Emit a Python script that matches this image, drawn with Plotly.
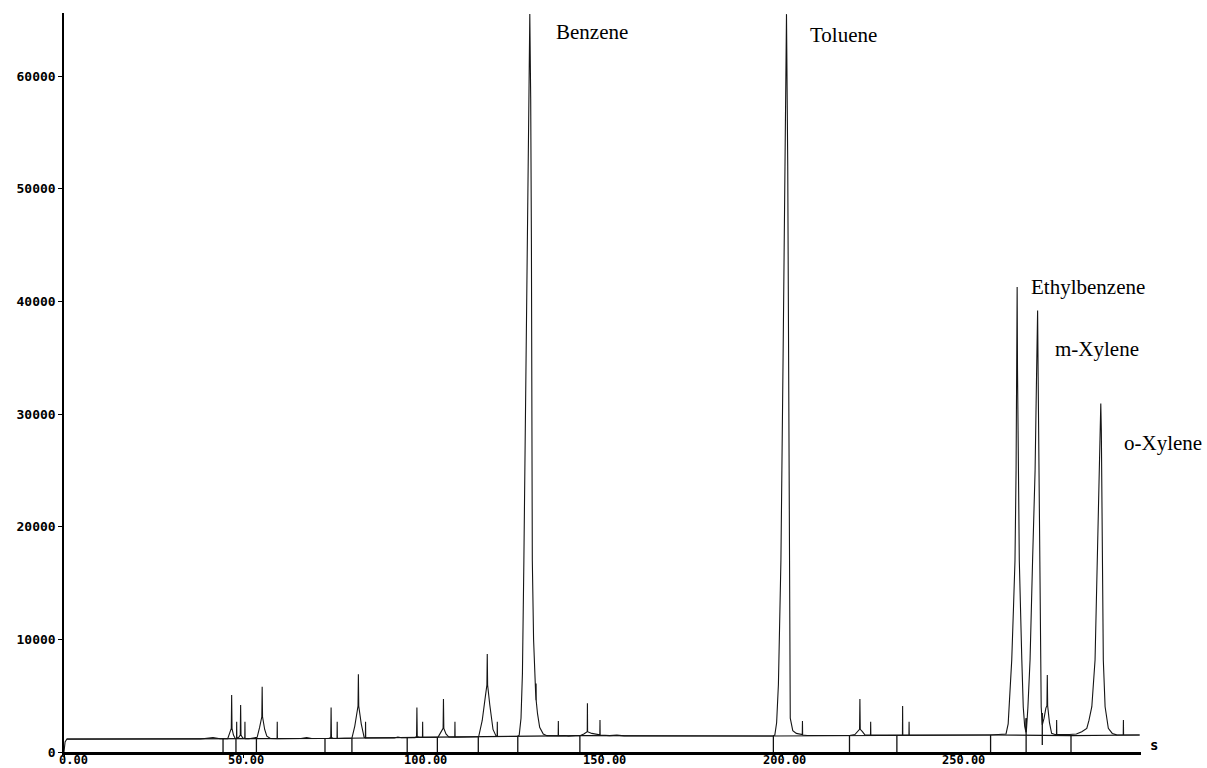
import plotly.graph_objects as go

# ---------------- data ----------------
# chromatogram trace vertices: retention time (s) and detector signal
trace_time = [
    0, 0.3, 0.8, 20, 38, 41.5, 43.5,
    45.6, 46.2, 46.6, 46.7, 46.8, 47.2, 47.7, 48.05, 48.1, 48.15, 48.7, 49.1, 49.2, 49.3, 49.8,
    50.35, 50.4, 50.45, 51.5, 53.0, 53.8, 54.5, 55.1, 55.2, 55.3, 55.9, 56.5, 57.5,
    59.35, 59.4, 59.45, 66, 67.6, 69, 73.8, 74.3, 74.4, 74.5, 75, 76.05, 76.1, 76.15,
    80.2, 81.0, 81.9, 82.0, 82.1, 82.8, 83.6, 83.95, 84.0, 84.05, 92, 93, 94,
    97.8, 98.2, 98.3, 98.4, 99.0, 99.85, 99.9, 99.95,
    104.2, 105.0, 105.6, 105.7, 105.8, 106.4, 107.2, 108.85, 108.9, 108.95,
    115.5, 116.5, 117.4, 117.8, 117.9, 118.0, 118.6, 119.5, 120.3, 120.65, 120.7, 120.75, 126.3,
    126.8, 127.3, 127.7, 128.1, 128.6, 129.1, 129.5, 129.75, 130.0, 130.2, 130.35, 130.45,
    130.8, 131.2, 131.45, 131.5, 131.55, 131.9, 132.5, 133.5, 134.5,
    137.65, 137.7, 137.75, 139.5, 140.5, 142.5, 143.7, 144.8, 145.6, 145.75, 145.8, 145.85,
    147, 149.25, 149.3, 149.35, 152, 154, 156, 175, 177, 179, 197.5,
    198.0, 198.5, 199.0, 199.7, 200.3, 200.8, 201.25, 201.6, 201.85, 202.0, 202.15, 202.3,
    203.0, 204.0, 205.65, 205.7, 205.75, 207,
    218.8, 220.3, 221.0, 221.6, 221.7, 221.8, 222.4, 223.1, 224.65, 224.7, 224.75,
    231.5, 233.55, 233.6, 233.65, 235.35, 235.4, 235.45, 258.0, 261.5,
    262.4, 263.0, 263.3, 264.0, 264.5, 264.9, 265.2, 265.4, 265.5, 265.6, 265.8, 266.1,
    266.8, 267.2, 267.6, 267.95, 268.0, 268.05,
    268.5, 269.1, 269.8, 270.5, 270.9, 271.2, 271.35, 271.55, 271.7, 271.9, 272.2, 272.5,
    273.0, 273.5, 273.8, 273.9, 274.0, 274.5, 275.1, 276.0, 276.45, 276.5, 276.55,
    280.0, 282.0, 283.5, 284.9,
    285.5, 286.3, 287.2, 287.8, 288.3, 288.6, 288.8, 288.95, 289.2, 289.5, 290.0, 290.9,
    292.0, 293.2, 295.05, 295.1, 295.15, 299.5,
]
trace_signal = [
    0, 900, 1150, 1150, 1160, 1280, 1170,
    1180, 1650, 2100, 5060, 2100, 1500, 1200, 1200, 2690, 1250, 1300, 1500, 4170, 1500, 1250,
    1200, 2690, 1200, 1180, 1250, 1300, 2200, 3130, 5790, 3130, 2000, 1400, 1200,
    1180, 2690, 1180, 1200, 1280, 1200, 1200, 1300, 3960, 1300, 1200, 1200, 2690, 1200,
    1230, 2300, 4080, 6890, 4080, 2500, 1300, 1250, 2690, 1250, 1250, 1330, 1260,
    1270, 1380, 3960, 1380, 1300, 1300, 2690, 1300,
    1320, 1700, 2100, 4700, 2100, 1600, 1330, 1320, 2690, 1320,
    1350, 2800, 5000, 5940, 8690, 5940, 4200, 2000, 1450, 1400, 2690, 1380, 1380,
    1500, 3000, 7000, 17000, 30000, 45000, 58000, 65500, 58000, 45000, 30000, 17000,
    10000, 6000, 4600, 6090, 4500, 3400, 2200, 1600, 1450,
    1430, 2750, 1430, 1450, 1400, 1450, 1450, 1600, 1800, 1800, 4320, 1800,
    1650, 1520, 2840, 1500, 1450, 1500, 1430, 1420, 1480, 1420, 1420,
    1500, 2600, 6000, 17000, 35000, 52000, 65500, 52000, 35000, 17000, 6000, 3000,
    1900, 1650, 1550, 2750, 1500, 1460,
    1470, 1550, 1800, 2010, 4700, 2010, 1800, 1520, 1500, 2690, 1500,
    1500, 1500, 4080, 1500, 1500, 2690, 1500, 1510, 1530,
    1600, 2500, 4000, 8200, 13000, 17000, 25000, 34000, 41270, 34000, 25000, 17000,
    8200, 4000, 2300, 1750, 2990, 1750,
    4000, 8200, 17000, 25000, 33290, 39200, 33290, 25000, 17000, 8200, 4000, 2400,
    3000, 3900, 4110, 6830, 4110, 2600, 1660, 1560, 1550, 2840, 1550,
    1560, 1600, 1800, 2100,
    2800, 4020, 8160, 17000, 26000, 28560, 30930, 28560, 17000, 8160, 4020, 2100,
    1650, 1520, 1510, 2840, 1510, 1510,
]

# integration baseline (drawn between peak-separation marks)
baseline_time = [0.8, 44.3, 72.7, 104.0, 126.4, 143.7, 197.6, 232.0, 258.1, 280.5, 299.7]
baseline_level = [1150, 1160, 1200, 1320, 1380, 1450, 1420, 1500, 1510, 1460, 1510]

# peak-separation marks: time and top level
marker_time = [44.3, 47.9, 53.6, 72.7, 80.2, 95.6, 104.0, 115.4, 126.4, 143.7,
               197.6, 218.8, 232.0, 258.1, 268.0, 280.5]
marker_top = [1160, 1200, 1200, 1200, 1230, 1260, 1320, 1350, 1380, 1450,
              1420, 1470, 1500, 1510, 2990, 1470]
valley_mark_time = [272.5]
valley_mark_low = [620]
valley_mark_high = [3460]

peak_names = ["Benzene", "Toluene", "Ethylbenzene", "m-Xylene", "o-Xylene"]
label_time = [136.5, 207.2, 268.8, 275.5, 294.7]
label_signal = [63900, 63650, 41300, 35750, 27400]

x_ticks = [0, 50, 100, 150, 200, 250]
y_ticks = [0, 10000, 20000, 30000, 40000, 50000, 60000]

# ---------------- figure ----------------
fig = go.Figure()

fig.add_trace(go.Scatter(
    x=baseline_time, y=baseline_level, mode="lines",
    line=dict(color="#111111", width=1.2), hoverinfo="skip", showlegend=False))

mx, my = [], []
for t, top in zip(marker_time, marker_top):
    mx += [t, t, None]
    my += [0, top, None]
for t, lo, hi in zip(valley_mark_time, valley_mark_low, valley_mark_high):
    mx += [t, t, None]
    my += [lo, hi, None]
fig.add_trace(go.Scatter(
    x=mx, y=my, mode="lines", line=dict(color="#111111", width=1.3),
    hoverinfo="skip", showlegend=False))

fig.add_trace(go.Scatter(
    x=trace_time, y=trace_signal, mode="lines",
    line=dict(color="#151515", width=1.1), showlegend=False))

for name, tx, ty in zip(peak_names, label_time, label_signal):
    fig.add_annotation(
        x=tx, y=ty, xref="x", yref="y", text=name, showarrow=False,
        xanchor="left", yanchor="middle",
        font=dict(family="Liberation Serif", size=21, color="black"))

# unit label at the right end of the time axis
fig.add_annotation(
    x=1, y=620, xref="paper", yref="y", text="s", showarrow=False,
    xanchor="left", yanchor="middle", xshift=7,
    font=dict(family="DejaVu Sans Mono", size=14, color="black", weight="bold"))

tick_font = dict(family="DejaVu Sans Mono", size=13, color="black", weight="bold")
xtick_font = dict(family="DejaVu Sans Mono", size=12, color="black", weight="bold")

# x tick labels as text below the axis (the axis sits right at the bottom edge)
for v in x_ticks:
    first = v == x_ticks[0]
    fig.add_annotation(
        x=v, y=0, xref="x", yref="y", text=f"{v:.2f}", showarrow=False,
        xanchor="left" if first else "center", yanchor="middle",
        xshift=-7 if first else 2, yshift=-8, font=xtick_font)

fig.update_layout(
    width=1207, height=768,
    margin=dict(l=64, r=66, t=13, b=16, autoexpand=False),
    paper_bgcolor="white", plot_bgcolor="white",
    showlegend=False,
    xaxis=dict(
        range=[0, 300], tickvals=x_ticks, showticklabels=False,
        showgrid=False, zeroline=False, automargin=False,
        showline=True, linecolor="black", linewidth=2.5,
        ticks="outside", ticklen=3, tickwidth=1, tickcolor="black"),
    yaxis=dict(
        range=[0, 65600], tickvals=y_ticks,
        ticktext=[str(v) for v in y_ticks],
        showgrid=False, zeroline=False, automargin=False,
        showline=True, linecolor="black", linewidth=1.5,
        ticks="outside", ticklen=4, tickwidth=1, tickcolor="black",
        tickfont=tick_font),
)

fig.write_html("out.html")
